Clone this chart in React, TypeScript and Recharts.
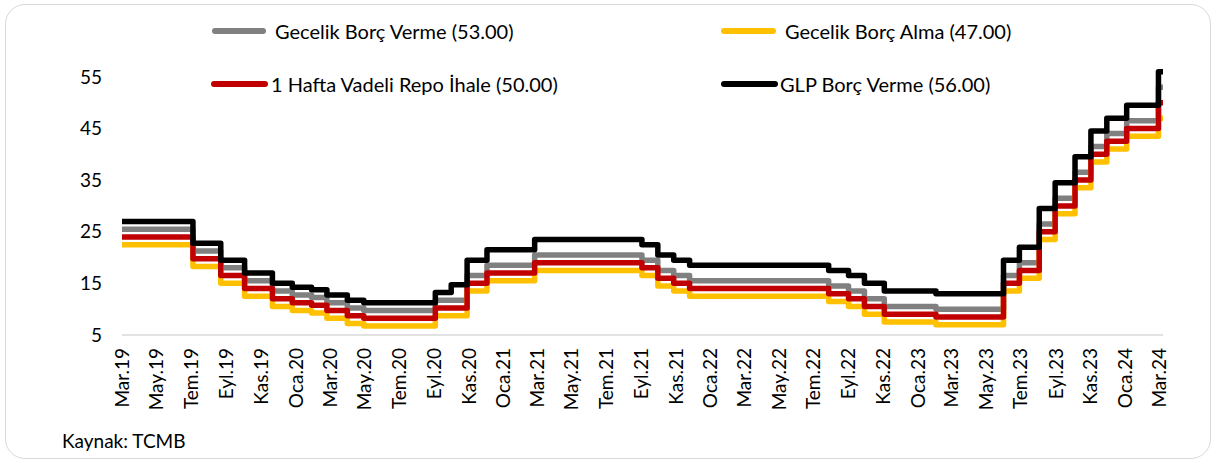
import { LineChart, Line, XAxis, YAxis } from 'recharts';

// meeting dates where the corridor rates changed (last entry = end of data)
const changeDates = [
  '2019-03-22', '2019-07-25', '2019-09-12', '2019-10-24', '2019-12-12',
  '2020-01-16', '2020-02-19', '2020-03-17', '2020-04-22', '2020-05-21',
  '2020-09-24', '2020-10-22', '2020-11-19', '2020-12-24', '2021-03-18',
  '2021-09-23', '2021-10-21', '2021-11-18', '2021-12-16', '2022-08-18',
  '2022-09-22', '2022-10-20', '2022-11-24', '2023-02-23', '2023-06-22',
  '2023-07-20', '2023-08-24', '2023-09-21', '2023-10-26', '2023-11-23',
  '2023-12-21', '2024-01-25', '2024-03-21', '2024-03-29',
];
const gecelikBorcVerme = [
  25.5, 21.25, 18, 15.5, 13.5, 12.75, 12.25, 11.25, 10.25, 9.75,
  11.75, 11.75, 16.5, 18.5, 20.5, 19.5, 17.5, 16.5, 15.5, 14.5,
  13.5, 12, 10.5, 10, 16.5, 19, 26.5, 31.5, 36.5, 41.5,
  44, 46.5, 53, 53,
];
const gecelikBorcAlma = [
  22.5, 18.25, 15, 12.5, 10.5, 9.75, 9.25, 8.25, 7.25, 6.75,
  8.75, 8.75, 13.5, 15.5, 17.5, 16.5, 14.5, 13.5, 12.5, 11.5,
  10.5, 9, 7.5, 7, 13.5, 16, 23.5, 28.5, 33.5, 38.5,
  41, 43.5, 47, 47,
];
const repoIhale = [
  24, 19.75, 16.5, 14, 12, 11.25, 10.75, 9.75, 8.75, 8.25,
  10.25, 10.25, 15, 17, 19, 18, 16, 15, 14, 13,
  12, 10.5, 9, 8.5, 15, 17.5, 25, 30, 35, 40,
  42.5, 45, 50, 50,
];
const glpBorcVerme = [
  27, 22.75, 19.5, 17, 15, 14.25, 13.75, 12.75, 11.75, 11.25,
  13.25, 14.75, 19.5, 21.5, 23.5, 22.5, 20.5, 19.5, 18.5, 17.5,
  16.5, 15, 13.5, 13, 19.5, 22, 29.5, 34.5, 39.5, 44.5,
  47, 49.5, 56, 56,
];

const monthNames = ['Oca', 'Şub', 'Mar', 'Nis', 'May', 'Haz', 'Tem', 'Ağu', 'Eyl', 'Eki', 'Kas', 'Ara'];
const tickLabels = [
  'Mar.19', 'May.19', 'Tem.19', 'Eyl.19', 'Kas.19', 'Oca.20', 'Mar.20', 'May.20',
  'Tem.20', 'Eyl.20', 'Kas.20', 'Oca.21', 'Mar.21', 'May.21', 'Tem.21', 'Eyl.21',
  'Kas.21', 'Oca.22', 'Mar.22', 'May.22', 'Tem.22', 'Eyl.22', 'Kas.22', 'Oca.23',
  'Mar.23', 'May.23', 'Tem.23', 'Eyl.23', 'Kas.23', 'Oca.24', 'Mar.24',
];
const yTicks = [5, 15, 25, 35, 45, 55];

const legendItems = [
  { name: 'Gecelik Borç Verme (53.00)', color: '#808080' },
  { name: 'Gecelik Borç Alma (47.00)', color: '#FFC000' },
  { name: '1 Hafta Vadeli Repo İhale (50.00)', color: '#C00000' },
  { name: 'GLP Borç Verme (56.00)', color: '#000000' },
];

const FONT = 'Lato, sans-serif';
const START = Date.UTC(2019, 2, 22);
const dayIndex = (y: number, m: number, d: number) => (Date.UTC(y, m - 1, d) - START) / 86400000;
const fromIso = (s: string) => {
  const [y, m, d] = s.split('-').map(Number);
  return dayIndex(y, m, d);
};

const data = changeDates.map((d, i) => ({
  t: fromIso(d),
  gbv: gecelikBorcVerme[i],
  gba: gecelikBorcAlma[i],
  repo: repoIhale[i],
  glp: glpBorcVerme[i],
}));

const tickPositions = tickLabels.map((l) => {
  const [mon, yy] = l.split('.');
  return dayIndex(2000 + Number(yy), monthNames.indexOf(mon) + 1, 22);
});
const labelAt = new Map(tickPositions.map((p, i) => [p, tickLabels[i]]));

function RotatedTick(props: any) {
  const { x, y, payload } = props;
  return (
    <g transform={`translate(${x},${y})`}>
      <text x={0} y={0} dy="0.36em" textAnchor="end" transform="rotate(-90)"
        fill="#000" fontSize={19} fontFamily={FONT}>
        {labelAt.get(payload.value)}
      </text>
    </g>
  );
}

function LegendBlock() {
  const pos = [
    { left: 212, top: 32, lineW: 54, gap: 9 },
    { left: 721, top: 32, lineW: 55, gap: 9 },
    { left: 211, top: 85, lineW: 57, gap: 3 },
    { left: 721, top: 85, lineW: 57, gap: 2 },
  ];
  return (
    <>
      {legendItems.map((it, i) => (
        <div key={it.name} style={{
          position: 'absolute', left: pos[i].left, top: pos[i].top - 13, height: 24,
          display: 'flex', alignItems: 'center', fontFamily: FONT, fontSize: 20, color: '#000',
          whiteSpace: 'nowrap',
        }}>
          <span style={{ display: 'inline-block', width: pos[i].lineW, height: 5.5, borderRadius: 3, background: it.color }} />
          <span style={{ marginLeft: pos[i].gap }}>{it.name}</span>
        </div>
      ))}
    </>
  );
}

export default function App() {
  return (
    <div style={{ position: 'absolute', left: 0, top: 0, width: 1215, height: 462, background: '#fff' }}>
      <div style={{
        position: 'absolute', left: 5, top: 4, width: 1206, height: 455,
        border: '1.5px solid #d9d9d9', borderRadius: 20, boxSizing: 'border-box',
      }} />
      <LineChart width={1215} height={462} data={data}
        margin={{ top: 51, right: 52, bottom: 37, left: 0 }}>
        <XAxis dataKey="t" type="number" domain={[0, fromIso('2024-03-29')]}
          ticks={tickPositions} interval={0} tickSize={0} tickMargin={13} height={90}
          axisLine={{ stroke: '#d9d9d9', strokeWidth: 1.5 }} tickLine={false}
          tick={<RotatedTick />} allowDataOverflow />
        <YAxis type="number" domain={[5, 60]} ticks={yTicks} width={122} tickSize={0} tickMargin={20}
          axisLine={false} tickLine={false}
          tick={{ fill: '#000', fontSize: 19, fontFamily: FONT }} />
        <Line type="stepAfter" dataKey="gbv" stroke="#808080" strokeWidth={5.5} dot={false}
          strokeLinecap="round" strokeLinejoin="round" isAnimationActive={false} />
        <Line type="stepAfter" dataKey="gba" stroke="#FFC000" strokeWidth={5.5} dot={false}
          strokeLinecap="round" strokeLinejoin="round" isAnimationActive={false} />
        <Line type="stepAfter" dataKey="repo" stroke="#C00000" strokeWidth={5.5} dot={false}
          strokeLinecap="round" strokeLinejoin="round" isAnimationActive={false} />
        <Line type="stepAfter" dataKey="glp" stroke="#000000" strokeWidth={5.5} dot={false}
          strokeLinecap="round" strokeLinejoin="round" isAnimationActive={false} />
      </LineChart>
      <LegendBlock />
      <div style={{ position: 'absolute', left: 62, top: 429, fontFamily: FONT, fontSize: 19, color: '#000' }}>
        Kaynak: TCMB
      </div>
    </div>
  );
}
